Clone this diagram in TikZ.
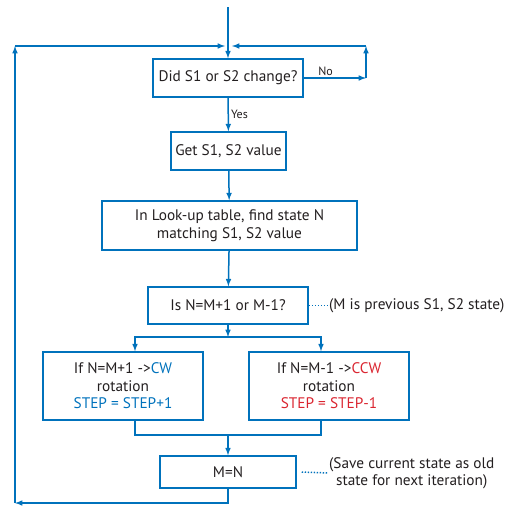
\documentclass[tikz,border=0pt]{standalone}
\usepackage{fontspec}
\setmainfont{PT Sans}
\usetikzlibrary{arrows,positioning,calc}
\definecolor{flowblue}{RGB}{0,114,188}
\definecolor{flowred}{RGB}{218,37,48}
\definecolor{flowtext}{RGB}{35,31,32}
\tikzstyle{block}=[draw=flowblue,
                   line width=1.5pt,
                   text=flowtext,
                   align=center,
                   inner sep=2pt,
                   font=\fontsize{15.3}{17.5}\selectfont]
\tikzstyle{link}=[draw=flowblue, line width=1.5pt, ->, >=latex]
\tikzstyle{wire}=[draw=flowblue, line width=1.5pt]
\tikzstyle{hint}=[draw=flowblue, line width=1.5pt, dash pattern=on 1.4pt off 1.6pt]
\tikzstyle{note}=[text=flowtext, inner sep=1pt, align=center,
                  font=\fontsize{15.3}{17.5}\selectfont]
\tikzstyle{tag}=[text=flowtext, inner sep=2pt, font=\fontsize{12}{14}\selectfont]

\begin{document}
\begin{tikzpicture}[x=1pt,y=-1pt]
    \useasboundingbox (0,0) rectangle (508,506);
    % boxes
    \node[block, minimum width=150pt, minimum height=38pt] (change) at (228,78) {Did S1 or S2 change?};
    \node[block, minimum width=115pt, minimum height=38pt] (get) at (228.5,151) {Get S1, S2 value};
    \node[block, minimum width=255pt, minimum height=49pt] (lookup) at (229.5,225.5) {In Look-up table, find state N\\ matching S1, S2 value};
    \node[block, minimum width=160pt, minimum height=37pt] (isn) at (228,305.5) {Is N=M+1 or M-1?};
    \node[block, minimum width=160pt, minimum height=68pt] (cw) at (123,386) {If N=M+1 ->\textcolor{flowblue}{CW}\\ rotation\\ \textcolor{flowblue}{STEP = STEP+1}};
    \node[block, minimum width=160pt, minimum height=68pt] (ccw) at (329,386) {If N=M-1 ->\textcolor{flowred}{CCW}\\ rotation\\ \textcolor{flowred}{STEP = STEP-1}};
    \node[block, minimum width=136pt, minimum height=32pt] (mn) at (228,472) {M=N};
    % notes
    \node[note, anchor=west] (isnnote) at (328,305.5) {(M is previous S1, S2 state)};
    \node[note, anchor=west] (mnnote) at (328,473) {(Save current state as old\\ state for next iteration)};
    % corners
    \coordinate (start) at (228,7);
    \coordinate (mergeleft) at (225,46);
    \coordinate (mergeright) at (232,46);
    \coordinate (noright) at (366,78);
    \coordinate (notop) at (366,46);
    \coordinate (topleft) at (15,46);
    \coordinate (botleft) at (15,503);
    \coordinate (split) at (228,337);
    \coordinate (join) at (228,435);

    \path (start) edge[link] (change.north)
   (change) edge[link] node[tag, right] {Yes} (get)
   (get) edge[link] (lookup)
   (lookup) edge[link] (isn)
   (isn) edge[link] (split)
   (join) edge[link] (mn);
    \draw[link] (change.east) -- node[tag, above, pos=0.35] {No} (noright);
    \draw[link] (noright) -- (notop);
    \draw[link] (notop) -- (mergeright);
    \draw[link] (mn.south) |- (botleft);
    \draw[link] (botleft) -- (topleft);
    \draw[link] (topleft) -- (mergeleft);
    \draw[link] (split) -| ([xshift=12pt]cw.north);
    \draw[link] (split) -| ([xshift=-8pt]ccw.north);
    \draw[wire] ([xshift=12pt]cw.south) |- (join) -| ([xshift=-8pt]ccw.south);
    \draw[hint] (isn.east) -- (isnnote.west);
    \draw[hint] ([xshift=5pt]mn.east) -- (mnnote.west);
\end{tikzpicture}
\end{document}
